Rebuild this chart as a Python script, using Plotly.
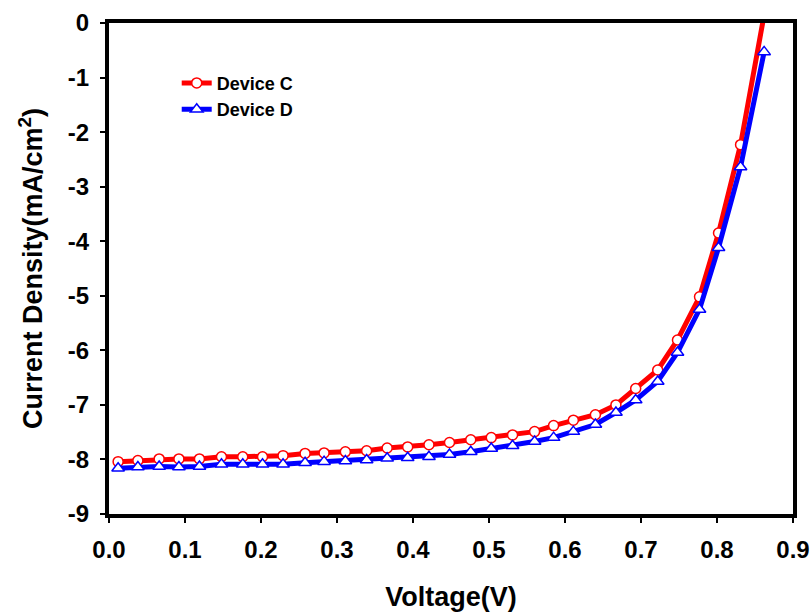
import plotly.graph_objects as go

voltage = [0.012, 0.038, 0.066, 0.092, 0.119, 0.148, 0.176, 0.202, 0.229, 0.258,
           0.283, 0.311, 0.339, 0.366, 0.393, 0.421, 0.448, 0.476, 0.503, 0.531,
           0.560, 0.585, 0.611, 0.640, 0.667, 0.693, 0.722, 0.748, 0.777, 0.802,
           0.831, 0.862]

device_c = [-8.04, -8.02, -7.99, -7.99, -7.99, -7.95, -7.95, -7.95, -7.93, -7.89,
            -7.88, -7.86, -7.84, -7.79, -7.77, -7.73, -7.69, -7.64, -7.60, -7.55,
            -7.49, -7.38, -7.28, -7.18, -7.00, -6.70, -6.36, -5.81, -5.02, -3.85,
            -2.23, 0.15]

device_d = [-8.16, -8.14, -8.13, -8.14, -8.13, -8.09, -8.09, -8.09, -8.09, -8.06,
            -8.04, -8.03, -8.01, -7.98, -7.97, -7.95, -7.91, -7.86, -7.80, -7.75,
            -7.67, -7.60, -7.49, -7.36, -7.14, -6.91, -6.57, -6.04, -5.25, -4.12,
            -2.64, -0.53]

x_ticks = [0.0, 0.1, 0.2, 0.3, 0.4, 0.5, 0.6, 0.7, 0.8, 0.9]
x_tick_labels = ["0.0", "0.1", "0.2", "0.3", "0.4", "0.5", "0.6", "0.7", "0.8", "0.9"]
y_ticks = [0, -1, -2, -3, -4, -5, -6, -7, -8, -9]
y_tick_labels = ["0", "-1", "-2", "-3", "-4", "-5", "-6", "-7", "-8", "-9"]

FONT = "Liberation Sans, Arial, sans-serif"

fig = go.Figure()
fig.add_trace(go.Scatter(
    x=voltage, y=device_c, mode="lines+markers", name="Device C",
    line=dict(color="#FF0000", width=5),
    marker=dict(symbol="circle", size=10, color="white",
                line=dict(color="#FF0000", width=1.5)),
    cliponaxis=True,
))
fig.add_trace(go.Scatter(
    x=voltage, y=device_d, mode="lines+markers", name="Device D",
    line=dict(color="#0000FF", width=5),
    marker=dict(symbol="triangle-up", size=11, color="white",
                line=dict(color="#0000FF", width=1.5)),
    cliponaxis=True,
))

axis_common = dict(
    showline=True, linecolor="black", linewidth=4, mirror=True,
    ticks="outside", ticklen=5, tickwidth=2, tickcolor="black",
    showgrid=False, zeroline=False, automargin=False,
    tickfont=dict(family=FONT, size=24, color="black", weight="bold"),
)

fig.update_layout(
    width=812, height=612,
    margin=dict(l=109, r=19, t=23, b=98),
    paper_bgcolor="white", plot_bgcolor="white",
    xaxis=dict(range=[0, 0.9], tickvals=x_ticks, ticktext=x_tick_labels,
               ticklabelstandoff=6,
               title=dict(text="Voltage(V)", standoff=27,
                          font=dict(family=FONT, size=27, color="black", weight="bold")),
               **axis_common),
    yaxis=dict(range=[-9, 0], tickvals=y_ticks, ticktext=y_tick_labels,
               ticklabelstandoff=6,
               title=dict(text="Current Density(mA/cm<sup>2</sup>)", standoff=18,
                          font=dict(family=FONT, size=27, color="black", weight="bold")),
               **axis_common),
    legend=dict(x=0.099, y=0.915, xanchor="left", yanchor="top",
                bgcolor="rgba(0,0,0,0)", tracegroupgap=0,
                font=dict(family=FONT, size=18, color="black", weight="bold")),
    showlegend=True,
)

fig.write_html("out.html",
               config={"displayModeBar": False},
               post_script="document.body.style.margin='0';document.body.style.overflow='hidden';")
